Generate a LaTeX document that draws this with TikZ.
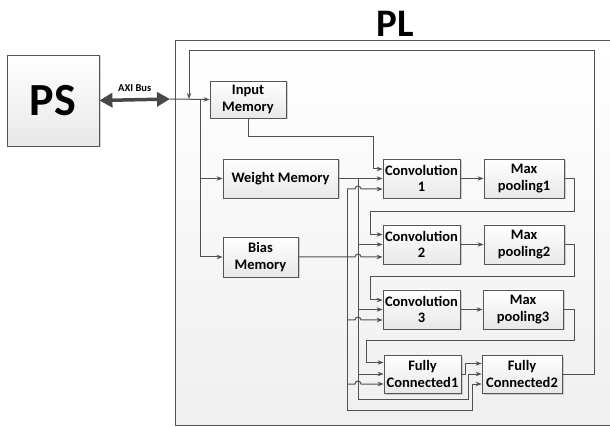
\documentclass[tikz,border=0pt]{standalone}
\usepackage{fontspec}
\setmainfont{Carlito}
\usetikzlibrary{arrows.meta,shadows}

\definecolor{wiregray}{RGB}{80,80,80}
\definecolor{boxgray}{RGB}{85,85,85}

\tikzset{
  blk/.style={draw=boxgray, line width=0.8pt, top color=white, bottom color=black!9,
    align=center, inner sep=0pt, font=\bfseries\fontsize{14.5}{16.5}\selectfont,
    drop shadow={shadow xshift=1.5pt, shadow yshift=-1.5pt, fill=black!30, opacity=0.6}},
  wire/.style={draw=wiregray, line width=1pt},
  arr/.style={wire, -{Stealth[length=6pt,width=4.5pt]}}
}

\begin{document}
\begin{tikzpicture}[x=1pt,y=-1pt]
\useasboundingbox (0,0) rectangle (610,427);

% frame of the PL side
\draw[draw=boxgray, line width=1pt, top color=white, bottom color=black!6] (175,41) rectangle (614,425);
\node (pltitle) at (395,24) {\bfseries\fontsize{39}{40}\selectfont PL};

% blocks
\node (ps) at (53,100.5) [blk,minimum width=92pt,minimum height=91pt] {\fontsize{46}{48}\selectfont PS};
\node (im) at (248,99.5) [blk,minimum width=76pt,minimum height=37pt] {Input\\Memory};
\node (wm) at (280.5,178.5) [blk,minimum width=115pt,minimum height=39pt] {Weight Memory};
\node (bm) at (260.5,257) [blk,minimum width=75pt,minimum height=40pt] {Bias\\Memory};

\node (c1) at (421.5,178.5) [blk,minimum width=77pt,minimum height=39pt] {Convolution\\1};
\node (c2) at (421.5,244.5) [blk,minimum width=77pt,minimum height=39pt] {Convolution\\2};
\node (c3) at (421.5,309.5) [blk,minimum width=77pt,minimum height=39pt] {Convolution\\3};
\node (mp1) at (524,178.5) [blk,minimum width=80pt,minimum height=39pt] {Max\\pooling1};
\node (mp2) at (524,244.5) [blk,minimum width=80pt,minimum height=39pt] {Max\\pooling2};
\node (mp3) at (523,309.5) [blk,minimum width=80pt,minimum height=39pt] {Max\\pooling3};
\node (fc1) at (422.5,374) [blk,minimum width=77pt,minimum height=38pt] {Fully\\Connected1};
\node (fc2) at (522,374) [blk,minimum width=80pt,minimum height=38pt] {Fully\\Connected2};

% bus points
\coordinate (axi) at (170,99);
\coordinate (tap) at (200,99);
\coordinate (fb) at (189,99);
\coordinate (wbus) at (358,178.5);
\coordinate (bbus) at (347,189);

% AXI bus
\draw[draw=black!72, fill=black!72, line width=3.5pt, {Triangle[length=13pt,width=14pt]}-{Triangle[length=13pt,width=14pt]}] (ps.east) -- node[above=3pt, font=\bfseries\fontsize{10.5}{11}\selectfont] {AXI Bus} (axi);
\draw[arr] (axi) -- (im.west);
\draw[arr] (tap) |- (wm.west);
\draw[arr] (tap) |- (bm.west);

% input memory to conv 1
\draw[arr] (im.south) |- (373,137) |- ([yshift=9.5pt]c1.west);

% weights
\draw[arr] (wm.east) -- (c1.west);
\draw[arr] (wbus) |- (468,399) |- (fc2.west);
\draw[arr] (wbus |- c2.west) -- (c2.west);
\draw[arr] (wbus |- c3.west) -- (c3.west);
\draw[arr] (wbus |- fc1.west) -- (fc1.west);

% biases
\draw[arr] (bbus) |- (472,410) |- ([yshift=-10pt]fc2.west);
\draw[arr] (bbus) -- (355,189) arc[start angle=180,end angle=0,radius=3pt] -- ([yshift=-10.5pt]c1.west);
\draw[arr] (bm.east) -- (355,257) arc[start angle=180,end angle=0,radius=3pt] -- ([yshift=-12.5pt]c2.west);
\draw[arr] (347,320) -- (355,320) arc[start angle=180,end angle=0,radius=3pt] -- ([yshift=-10.5pt]c3.west);
\draw[arr] (347,384) -- (355,384) arc[start angle=180,end angle=0,radius=3pt] -- ([yshift=-10pt]fc1.west);

% conv to pooling
\draw[arr] (c1) -- (mp1);
\draw[arr] (c2) -- (mp2);
\draw[arr] (c3) -- (mp3);

% pooling to next stage
\draw[arr] (mp1.east) -- (574,178.5) |- (370,212) |- ([yshift=10pt]c2.west);
\draw[arr] (mp2.east) -- (574,244.5) |- (370,277) |- ([yshift=9.5pt]c3.west);
\draw[arr] (mp3.east) -- (574,309.5) |- (366,341) |- ([yshift=11.5pt]fc1.west);
\draw[arr] (fc1.east) -- (465,374) |- ([yshift=10.5pt]fc2.west);

% result back to the bus
\draw[arr] (fc2.east) -- (594,374) |- (189,51) -- (fb);
\end{tikzpicture}
\end{document}
